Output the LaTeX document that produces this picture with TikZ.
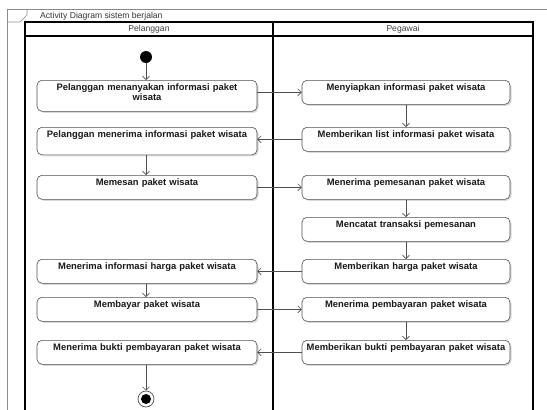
\documentclass[tikz,border=0pt]{standalone}
\usepackage{fontspec}
\setmainfont{Liberation Sans}
\usetikzlibrary{arrows.meta,shadows}
\definecolor{framegray}{HTML}{8A8A8A}
\definecolor{edgegray}{HTML}{505050}
\tikzset{
	act/.style={draw=edgegray, line width=0.6pt, rounded corners=5pt, fill=white, anchor=north,
		align=center, inner xsep=1pt, inner ysep=2.5pt, text height=8pt, text depth=11pt,
		font=\fontsize{9.4}{10}\selectfont\bfseries, text=black!90,
		drop shadow={shadow xshift=1.5pt, shadow yshift=-1.5pt, fill=black!30, opacity=0.5}},
	lact/.style={act, text width=218pt},
	ract/.style={act, text width=206pt},
	flow/.style={draw=edgegray, line width=0.6pt, -{Straight Barb[length=3.5pt,width=7pt]}},
	lane/.style={line width=1.2pt, draw=black}
}

\begin{document}
\begin{tikzpicture}[x=1pt, y=-1pt]
			%%%%% FRAME %%%%%
			\useasboundingbox (0, 0) rectangle (547, 410);
			\draw[framegray, line width=0.7pt] (547, 9) -- (7, 9) -- (7, 410);
			\draw[framegray, line width=0.7pt] (7, 22) -- (20, 22) -- (27, 15) -- (27, 9);
			\node[anchor=west, font=\fontsize{8.6}{10}\selectfont, text=black!80, inner sep=0pt] (title) at (40, 16) {Activity Diagram sistem berjalan};
			
			%%%%% LANES %%%%%
			\draw[lane] (25, 410) -- (25, 22) -- (533, 22) -- (533, 410);
			\draw[lane] (273, 22) -- (273, 410);
			\draw[lane] (25, 36) -- (533, 36);
			\node[font=\fontsize{8.6}{10}\selectfont, text=black!75, inner sep=0pt] (hpel) at (149, 29.5) {Pelanggan};
			\node[font=\fontsize{8.6}{10}\selectfont, text=black!75, inner sep=0pt] (hpeg) at (403, 29.5) {Pegawai};
			
			%%%%% PELANGGAN %%%%%
			\node[circle, fill=black, inner sep=0pt, minimum size=12pt] (start) at (146, 57) {};
			\node[lact, text depth=18pt] (pl1) at (147, 80) {Pelanggan menanyakan informasi paket\\wisata};
			\node[lact, text depth=14.5pt] (pl2) at (147, 127) {Pelanggan menerima informasi paket wisata};
			\node[lact] (pl3) at (147, 175) {Memesan paket wisata};
			\node[lact] (pl4) at (147, 259) {Menerima informasi harga paket wisata};
			\node[lact] (pl5) at (147, 297) {Membayar paket wisata};
			\node[lact] (pl6) at (147, 340) {Menerima bukti pembayaran paket wisata};
			\node[circle, draw=edgegray, fill=white, line width=0.7pt, inner sep=0pt, minimum size=16pt] (stop) at (146, 399) {};
			\fill[black] (stop) circle (5pt);
			
			%%%%% PEGAWAI %%%%%
			\node[ract] (pg1) at (406, 80) {Menyiapkan informasi paket wisata};
			\node[ract] (pg2) at (406, 127) {Memberikan list informasi paket wisata};
			\node[ract] (pg3) at (406, 175) {Menerima pemesanan paket wisata};
			\node[ract] (pg4) at (406, 217) {Mencatat transaksi pemesanan};
			\node[ract] (pg5) at (406, 259) {Memberikan harga paket wisata};
			\node[ract] (pg6) at (406, 297) {Menerima pembayaran paket wisata};
			\node[ract] (pg7) at (406, 340) {Memberikan bukti pembayaran paket wisata};
			
			%%%%% FLOWS %%%%%
			\draw[flow] (start) -- (pl1.north -| start);
			\draw[flow] (pl1.east |- pg1.east) -- (pg1.west);
			\draw[flow] (pg1) -- (pg2);
			\draw[flow] (pg2.west) -- (pg2.west -| pl2.east);
			\draw[flow] (pl2.south -| start) -- (pl3.north -| start);
			\draw[flow] (pl3.east) -- (pg3.west);
			\draw[flow] (pg3) -- (pg4);
			\draw[flow] (pg4) -- (pg5);
			\draw[flow] (pg5.west) -- (pl4.east);
			\draw[flow] (pl4.south -| start) -- (pl5.north -| start);
			\draw[flow] (pl5.east) -- (pg6.west);
			\draw[flow] (pg6) -- (pg7);
			\draw[flow] (pg7.west) -- (pl6.east);
			\draw[flow] (pl6.south -| start) -- (stop);
		\end{tikzpicture}
\end{document}
